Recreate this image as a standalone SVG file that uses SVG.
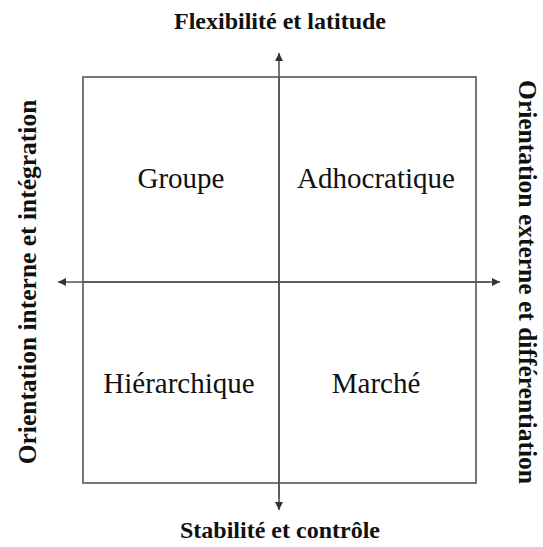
<svg xmlns="http://www.w3.org/2000/svg" width="543" height="547" viewBox="0 0 543 547">
  <style>
    .axis-title { font-family: "Liberation Serif", "Times New Roman", serif; font-weight: bold; font-size: 24px; fill: #111; text-anchor: middle; }
    .side { font-size: 25.5px; }
    .quad { font-family: "Liberation Serif", "Times New Roman", serif; font-size: 29px; fill: #111; text-anchor: middle; }
    .frame { fill: none; stroke: #777; stroke-width: 2; }
    .axis { stroke: #555; stroke-width: 1.6; fill: none; }
  </style>
  <defs>
    <marker id="arrow" viewBox="0 0 10 10" refX="10" refY="5" markerWidth="8" markerHeight="8" markerUnits="userSpaceOnUse" orient="auto">
      <path d="M0,0 L10,5 L0,10 Z" fill="#333"/>
    </marker>
  </defs>
  <rect width="543" height="547" fill="#fff"/>

  <g id="frame">
    <rect class="frame" x="83" y="77" width="393" height="406"/>
  </g>

  <g id="connectors">
    <line class="axis" x1="279" y1="498" x2="279" y2="53" marker-end="url(#arrow)"/>
    <line class="axis" x1="279" y1="77" x2="279" y2="510" marker-end="url(#arrow)"/>
    <line class="axis" x1="490" y1="282" x2="58" y2="282" marker-end="url(#arrow)"/>
    <line class="axis" x1="83" y1="282" x2="500" y2="282" marker-end="url(#arrow)"/>
  </g>

  <g id="top-label"><text class="axis-title" x="280" y="29">Flexibilité et latitude</text></g>
  <g id="bottom-label"><text class="axis-title" x="280" y="538">Stabilité et contrôle</text></g>
  <g id="left-label"><text class="axis-title side" transform="translate(36,282) rotate(-90)">Orientation interne et intégration</text></g>
  <g id="right-label"><text class="axis-title side" transform="translate(519,282) rotate(90)">Orientation externe et différentiation</text></g>

  <g id="groupe"><text class="quad" x="181" y="188">Groupe</text></g>
  <g id="adhocratique"><text class="quad" x="376" y="188">Adhocratique</text></g>
  <g id="hierarchique"><text class="quad" x="179" y="393">Hiérarchique</text></g>
  <g id="marche"><text class="quad" x="376" y="393">Marché</text></g>
</svg>
